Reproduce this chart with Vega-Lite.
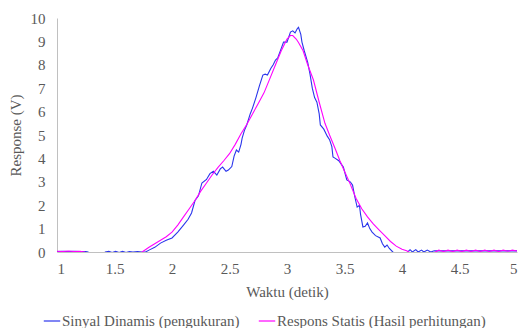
{
  "$schema": "https://vega.github.io/schema/vega-lite/v6.json",
  "width": 460,
  "height": 234,
  "autosize": {"type": "none"},
  "padding": {"left": 57, "top": 18, "right": 4, "bottom": 76},
  "background": "white",
  "config": {
    "view": {"stroke": null},
    "font": "Liberation Serif",
    "text": {"font": "Liberation Serif"},
    "axis": {"grid": false, "ticks": false, "tickSize": 0, "labelOverlap": false, "domainColor": "#c0c0c0", "domainWidth": 1, "labelFont": "Liberation Serif", "labelFontSize": 15, "labelColor": "#595959", "titleFont": "Liberation Serif", "titleFontSize": 15, "titleColor": "#595959", "titleFontWeight": "normal"},
    "legend": {"labelFont": "Liberation Serif"}
  },
  "datasets": {
    "sinyal": [
      {"x":1.0,"v":0.02},{"x":1.05,"v":0.03},{"x":1.1,"v":0.02},{"x":1.15,"v":0.03},{"x":1.2,"v":0.02},{"x":1.25,"v":0.02},{"x":1.27,"v":0.0},{"x":1.3,"v":-0.15},{"x":1.4,"v":-0.15},{"x":1.42,"v":0.0},{"x":1.45,"v":0.03},{"x":1.48,"v":-0.02},{"x":1.51,"v":0.03},{"x":1.54,"v":-0.02},{"x":1.57,"v":0.03},{"x":1.6,"v":-0.02},{"x":1.63,"v":0.02},{"x":1.66,"v":0.0},{"x":1.7,"v":0.02},{"x":1.74,"v":0.0},{"x":1.77,"v":0.0},{"x":1.8,"v":0.08},{"x":1.85,"v":0.2},{"x":1.9,"v":0.38},{"x":1.95,"v":0.5},{"x":2.0,"v":0.6},{"x":2.05,"v":0.85},{"x":2.1,"v":1.15},{"x":2.14,"v":1.4},{"x":2.17,"v":1.67},{"x":2.2,"v":2.2},{"x":2.23,"v":2.4},{"x":2.26,"v":2.95},{"x":2.3,"v":3.1},{"x":2.33,"v":3.35},{"x":2.36,"v":3.45},{"x":2.39,"v":3.29},{"x":2.42,"v":3.55},{"x":2.44,"v":3.63},{"x":2.47,"v":3.45},{"x":2.49,"v":3.5},{"x":2.52,"v":3.65},{"x":2.54,"v":4.1},{"x":2.56,"v":4.36},{"x":2.58,"v":4.27},{"x":2.6,"v":4.6},{"x":2.61,"v":4.87},{"x":2.63,"v":5.2},{"x":2.65,"v":5.43},{"x":2.68,"v":5.9},{"x":2.7,"v":6.15},{"x":2.73,"v":6.6},{"x":2.76,"v":7.1},{"x":2.79,"v":7.56},{"x":2.81,"v":7.6},{"x":2.83,"v":7.56},{"x":2.86,"v":7.85},{"x":2.88,"v":8.0},{"x":2.9,"v":8.2},{"x":2.92,"v":8.3},{"x":2.95,"v":8.7},{"x":2.97,"v":8.97},{"x":3.0,"v":8.97},{"x":3.02,"v":9.25},{"x":3.03,"v":9.4},{"x":3.05,"v":9.45},{"x":3.07,"v":9.36},{"x":3.09,"v":9.55},{"x":3.1,"v":9.6},{"x":3.12,"v":9.3},{"x":3.13,"v":8.97},{"x":3.15,"v":8.6},{"x":3.18,"v":8.1},{"x":3.2,"v":7.6},{"x":3.22,"v":7.0},{"x":3.24,"v":6.6},{"x":3.26,"v":6.4},{"x":3.28,"v":5.9},{"x":3.29,"v":5.43},{"x":3.32,"v":5.25},{"x":3.35,"v":4.95},{"x":3.37,"v":4.8},{"x":3.39,"v":4.5},{"x":3.4,"v":4.06},{"x":3.42,"v":4.0},{"x":3.45,"v":3.9},{"x":3.49,"v":3.63},{"x":3.52,"v":3.08},{"x":3.55,"v":3.0},{"x":3.57,"v":2.86},{"x":3.59,"v":2.35},{"x":3.61,"v":1.92},{"x":3.63,"v":2.0},{"x":3.64,"v":1.6},{"x":3.66,"v":1.07},{"x":3.68,"v":1.1},{"x":3.7,"v":1.24},{"x":3.72,"v":1.0},{"x":3.74,"v":0.85},{"x":3.77,"v":0.7},{"x":3.81,"v":0.6},{"x":3.83,"v":0.35},{"x":3.85,"v":0.21},{"x":3.87,"v":0.3},{"x":3.89,"v":0.15},{"x":3.92,"v":0.0},{"x":3.95,"v":-0.15},{"x":4.02,"v":-0.15},{"x":4.05,"v":0.0},{"x":4.07,"v":0.1},{"x":4.09,"v":0.0},{"x":4.12,"v":0.1},{"x":4.14,"v":0.0},{"x":4.17,"v":0.08},{"x":4.19,"v":0.0},{"x":4.22,"v":0.08},{"x":4.25,"v":0.0},{"x":4.28,"v":0.05},{"x":4.4,"v":0.05},{"x":4.6,"v":0.05},{"x":4.8,"v":0.05},{"x":5.0,"v":0.05}
    ],
    "statis": [
      {"x":1.0,"v":0.03},{"x":1.05,"v":0.02},{"x":1.1,"v":0.04},{"x":1.15,"v":0.02},{"x":1.2,"v":0.03},{"x":1.24,"v":0.0},{"x":1.27,"v":-0.15},{"x":1.7,"v":-0.15},{"x":1.74,"v":0.0},{"x":1.8,"v":0.2},{"x":1.85,"v":0.35},{"x":1.9,"v":0.5},{"x":1.95,"v":0.65},{"x":2.0,"v":0.85},{"x":2.05,"v":1.15},{"x":2.1,"v":1.5},{"x":2.15,"v":1.85},{"x":2.2,"v":2.2},{"x":2.25,"v":2.6},{"x":2.3,"v":2.95},{"x":2.35,"v":3.3},{"x":2.4,"v":3.62},{"x":2.45,"v":3.9},{"x":2.5,"v":4.2},{"x":2.55,"v":4.6},{"x":2.6,"v":5.05},{"x":2.65,"v":5.45},{"x":2.7,"v":5.9},{"x":2.75,"v":6.35},{"x":2.8,"v":6.8},{"x":2.85,"v":7.4},{"x":2.9,"v":8.0},{"x":2.95,"v":8.6},{"x":3.0,"v":9.1},{"x":3.03,"v":9.25},{"x":3.05,"v":9.25},{"x":3.08,"v":9.1},{"x":3.1,"v":8.95},{"x":3.14,"v":8.6},{"x":3.18,"v":8.0},{"x":3.23,"v":7.35},{"x":3.28,"v":6.4},{"x":3.33,"v":5.5},{"x":3.37,"v":5.0},{"x":3.42,"v":4.4},{"x":3.46,"v":3.9},{"x":3.5,"v":3.45},{"x":3.55,"v":2.9},{"x":3.6,"v":2.3},{"x":3.65,"v":1.85},{"x":3.7,"v":1.5},{"x":3.75,"v":1.2},{"x":3.8,"v":0.95},{"x":3.85,"v":0.7},{"x":3.9,"v":0.45},{"x":3.95,"v":0.25},{"x":4.0,"v":0.12},{"x":4.04,"v":0.05},{"x":4.06,"v":0.0},{"x":4.08,"v":-0.15},{"x":4.27,"v":-0.15},{"x":4.29,"v":0.0},{"x":4.32,"v":0.08},{"x":4.36,"v":0.02},{"x":4.4,"v":0.08},{"x":4.44,"v":0.02},{"x":4.48,"v":0.08},{"x":4.52,"v":0.02},{"x":4.56,"v":0.08},{"x":4.6,"v":0.02},{"x":4.64,"v":0.08},{"x":4.68,"v":0.02},{"x":4.72,"v":0.08},{"x":4.76,"v":0.02},{"x":4.8,"v":0.08},{"x":4.84,"v":0.02},{"x":4.88,"v":0.08},{"x":4.92,"v":0.03},{"x":4.96,"v":0.08},{"x":5.0,"v":0.04}
    ]
  },
  "encoding": {
    "x": {"field": "x", "type": "quantitative", "scale": {"domain": [1, 5], "nice": false}, "axis": {"values": [1, 1.5, 2, 2.5, 3, 3.5, 4, 4.5, 5], "format": "~g", "labelOverlap": false, "labelFont": "Liberation Serif", "titleFont": "Liberation Serif", "title": "Waktu (detik)", "labelPadding": 9, "titlePadding": 8}},
    "y": {"field": "v", "type": "quantitative", "scale": {"domain": [0, 10], "nice": false}, "axis": {"values": [0,1,2,3,4,5,6,7,8,9,10], "labelOverlap": false, "labelFont": "Liberation Serif", "titleFont": "Liberation Serif", "title": "Response (V)", "labelPadding": 12, "titlePadding": 7}},
    "color": {"field": "seri", "type": "nominal", "scale": {"domain": ["Sinyal Dinamis (pengukuran)", "Respons Statis (Hasil perhitungan)"], "range": ["#2a35ec", "#ff00ff"]},
      "legend": {"title": null, "orient": "none", "legendX": -14, "legendY": 294, "direction": "horizontal", "symbolType": "stroke", "symbolSize": 270, "symbolStrokeWidth": 1.2, "labelFont": "Liberation Serif", "labelFontSize": 15, "labelColor": "#595959", "labelLimit": 0, "labelOffset": 1, "columnPadding": 16, "padding": 0}}
  },
  "layer": [
    {
      "data": {"name": "sinyal"},
      "transform": [{"calculate": "'Sinyal Dinamis (pengukuran)'", "as": "seri"}],
      "mark": {"type": "line", "clip": true, "strokeWidth": 1.1, "interpolate": "linear"}
    },
    {
      "data": {"name": "statis"},
      "transform": [{"calculate": "'Respons Statis (Hasil perhitungan)'", "as": "seri"}],
      "mark": {"type": "line", "clip": true, "strokeWidth": 1.1, "interpolate": "linear"}
    }
  ]
}
